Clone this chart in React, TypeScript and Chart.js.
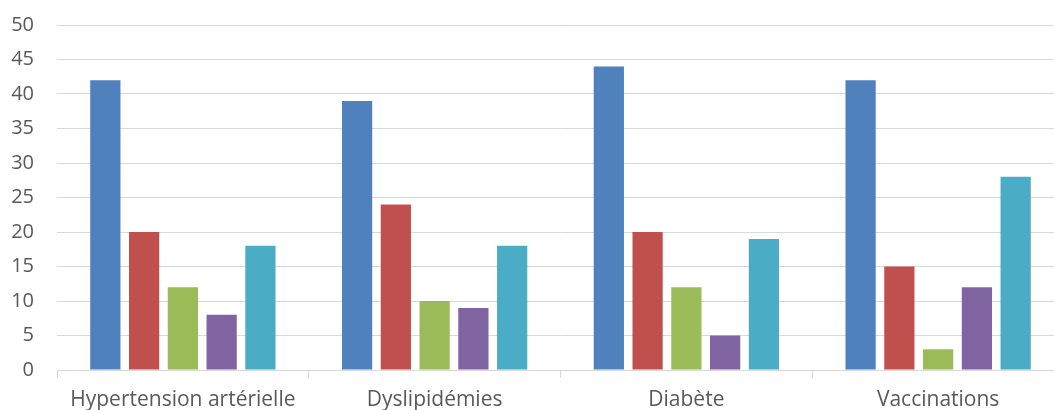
import React, { useEffect, useRef } from "react";
import { Chart, registerables } from "chart.js";

Chart.register(...registerables);

const categories = ["Hypertension artérielle", "Dyslipidémies", "Diabète", "Vaccinations"];
const series1 = [42, 39, 44, 42];
const series2 = [20, 24, 20, 15];
const series3 = [12, 10, 12, 3];
const series4 = [8, 9, 5, 12];
const series5 = [18, 18, 19, 28];
const seriesNames = ["Série 1", "Série 2", "Série 3", "Série 4", "Série 5"];
const colors = ["#4F81BD", "#C0504D", "#9BBB59", "#8064A2", "#4BACC6"];

export default function App() {
  const ref = useRef<HTMLCanvasElement | null>(null);
  useEffect(() => {
    if (!ref.current) return;
    const all = [series1, series2, series3, series4, series5];
    const xFont = { family: "'Open Sans', sans-serif", size: 21 };
    const yFont = { family: "'Open Sans', sans-serif", size: 20 };
    const chart = new Chart(ref.current, {
      type: "bar",
      data: {
        labels: categories,
        datasets: all.map((d, i) => ({
          label: seriesNames[i],
          data: d,
          backgroundColor: colors[i],
          borderWidth: 0,
          categoryPercentage: 0.77,
          barPercentage: 0.78,
        })),
      },
      options: {
        responsive: false,
        animation: false,
        layout: { padding: { top: 14, right: 0, left: 0, bottom: 0 } },
        plugins: { legend: { display: false }, tooltip: { enabled: false } },
        scales: {
          x: {
            grid: {
              display: true,
              drawOnChartArea: false,
              drawTicks: true,
              tickLength: 8,
              offset: true,
              color: "#D9D9D9",
              lineWidth: 1,
            },
            border: { display: true, color: "#D9D9D9", width: 1 },
            ticks: { color: "#595959", font: xFont, padding: 9, maxRotation: 0, autoSkip: false },
            afterFit: (s: any) => { s.height = 40; },
          },
          y: {
            min: 0,
            max: 50,
            ticks: { stepSize: 5, color: "#595959", font: yFont, padding: 23 },
            grid: { color: "#D9D9D9", lineWidth: 1, drawTicks: false },
            border: { display: false },
            afterFit: (s: any) => { s.width = 57; },
          },
        },
      },
    });
    return () => chart.destroy();
  }, []);
  return (
    <div style={{ position: "fixed", left: 0, top: 0, width: 1054, height: 410, overflow: "hidden", background: "#fff" }}>
      <canvas
        ref={ref}
        width={1064}
        height={420}
        style={{ position: "absolute", left: 0, top: -10, width: 1064, height: 420, display: "block" }}
      />
    </div>
  );
}
